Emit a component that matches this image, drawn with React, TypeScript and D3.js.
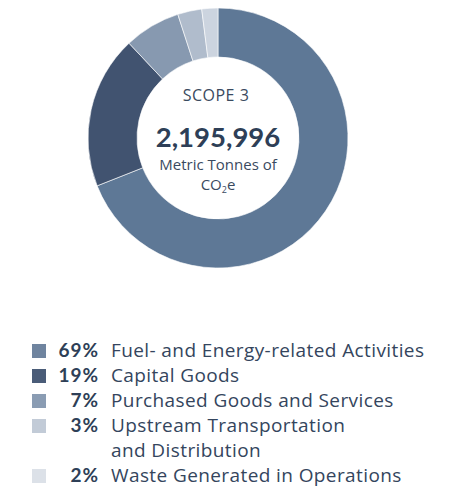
import * as d3 from "d3";
import { useEffect, useRef } from "react";

const categories = [
    "Fuel- and Energy-related Activities",
    "Capital Goods",
    "Purchased Goods and Services",
    "Upstream Transportation\nand Distribution",
    "Waste Generated in Operations",
];
const shares = [69, 19, 7, 3, 2];
const sliceColors = ["#5e7896", "#415370", "#8799b0", "#b0bccc", "#ccd4df"];
const legendColors = ["#6f849f", "#4a5c78", "#8a9cb3", "#c2cbd7", "#dce1e8"];
const totalLabel = "2,195,996";

export default function App() {
    const svgRef = useRef<SVGSVGElement | null>(null);

    useEffect(() => {
        if (!svgRef.current) return;
        const svg = d3.select(svgRef.current);
        svg.selectAll("*").remove();

        const width = 454;
        const height = 488;
        const cx = 218;
        const cy = 138;
        const outerR = 130;
        const innerR = 81;
        const textColor = "#2e3f57";
        const font = "'Open Sans', Lato, sans-serif";
        const boldFont = "Lato, 'Open Sans', sans-serif";

        svg.attr("width", width).attr("height", height);

        const data = shares.map((v, i) => ({ name: categories[i], value: v, i }));

        const pie = d3.pie<{ name: string; value: number; i: number }>()
            .value((d) => d.value)
            .sort(null);

        const arc = d3.arc<d3.PieArcDatum<{ name: string; value: number; i: number }>>()
            .innerRadius(innerR)
            .outerRadius(outerR);

        const g = svg.append("g").attr("transform", `translate(${cx},${cy})`);

        g.selectAll("path")
            .data(pie(data))
            .enter()
            .append("path")
            .attr("d", arc)
            .attr("fill", (d) => sliceColors[d.data.i])
            .attr("stroke", "#ffffff")
            .attr("stroke-width", 0.6);

        // Center labels
        g.append("text")
            .attr("x", -2)
            .attr("y", -37)
            .attr("text-anchor", "middle")
            .style("font-family", font)
            .style("font-size", "16px")
            .style("letter-spacing", "0.5px")
            .attr("fill", "#3a4a60")
            .text("SCOPE 3");

        g.append("text")
            .attr("x", 0)
            .attr("y", 9)
            .attr("text-anchor", "middle")
            .style("font-family", boldFont)
            .style("font-size", "27.5px")
            .style("font-weight", "bold")
            .attr("fill", textColor)
            .text(totalLabel);

        g.append("text")
            .attr("x", 0)
            .attr("y", 32)
            .attr("text-anchor", "middle")
            .style("font-family", font)
            .style("font-size", "15px")
            .attr("fill", "#3a4a60")
            .text("Metric Tonnes of");

        const co2 = g.append("text")
            .attr("x", 0)
            .attr("y", 52)
            .attr("text-anchor", "middle")
            .style("font-family", font)
            .style("font-size", "15px")
            .attr("fill", "#3a4a60");
        co2.append("tspan").text("CO");
        co2.append("tspan").attr("dy", 3).style("font-size", "9px").text("2");
        co2.append("tspan").attr("dy", -3).text("e");

        // Legend
        const legend = svg.append("g");
        let y = 344;
        data.forEach((d) => {
            const lines = d.name.split("\n");
            legend.append("rect")
                .attr("x", 32)
                .attr("y", y)
                .attr("width", 14)
                .attr("height", 14)
                .attr("fill", legendColors[d.i]);
            legend.append("text")
                .attr("x", 99)
                .attr("y", y + 13)
                .attr("text-anchor", "end")
                .style("font-family", boldFont)
                .style("font-size", "19px")
                .style("font-weight", "bold")
                .style("letter-spacing", "1px")
                .attr("fill", textColor)
                .text(`${d.value}%`);
            lines.forEach((line, k) => {
                legend.append("text")
                    .attr("x", 111)
                    .attr("y", y + 13 + k * 25)
                    .style("font-family", font)
                    .style("font-size", "19px")
                    .style("letter-spacing", "0.4px")
                    .attr("fill", "#34455d")
                    .text(line);
            });
            y += 25 * lines.length;
        });
    }, []);

    return <svg ref={svgRef} style={{ position: "absolute", left: 0, top: 0 }} />;
}
